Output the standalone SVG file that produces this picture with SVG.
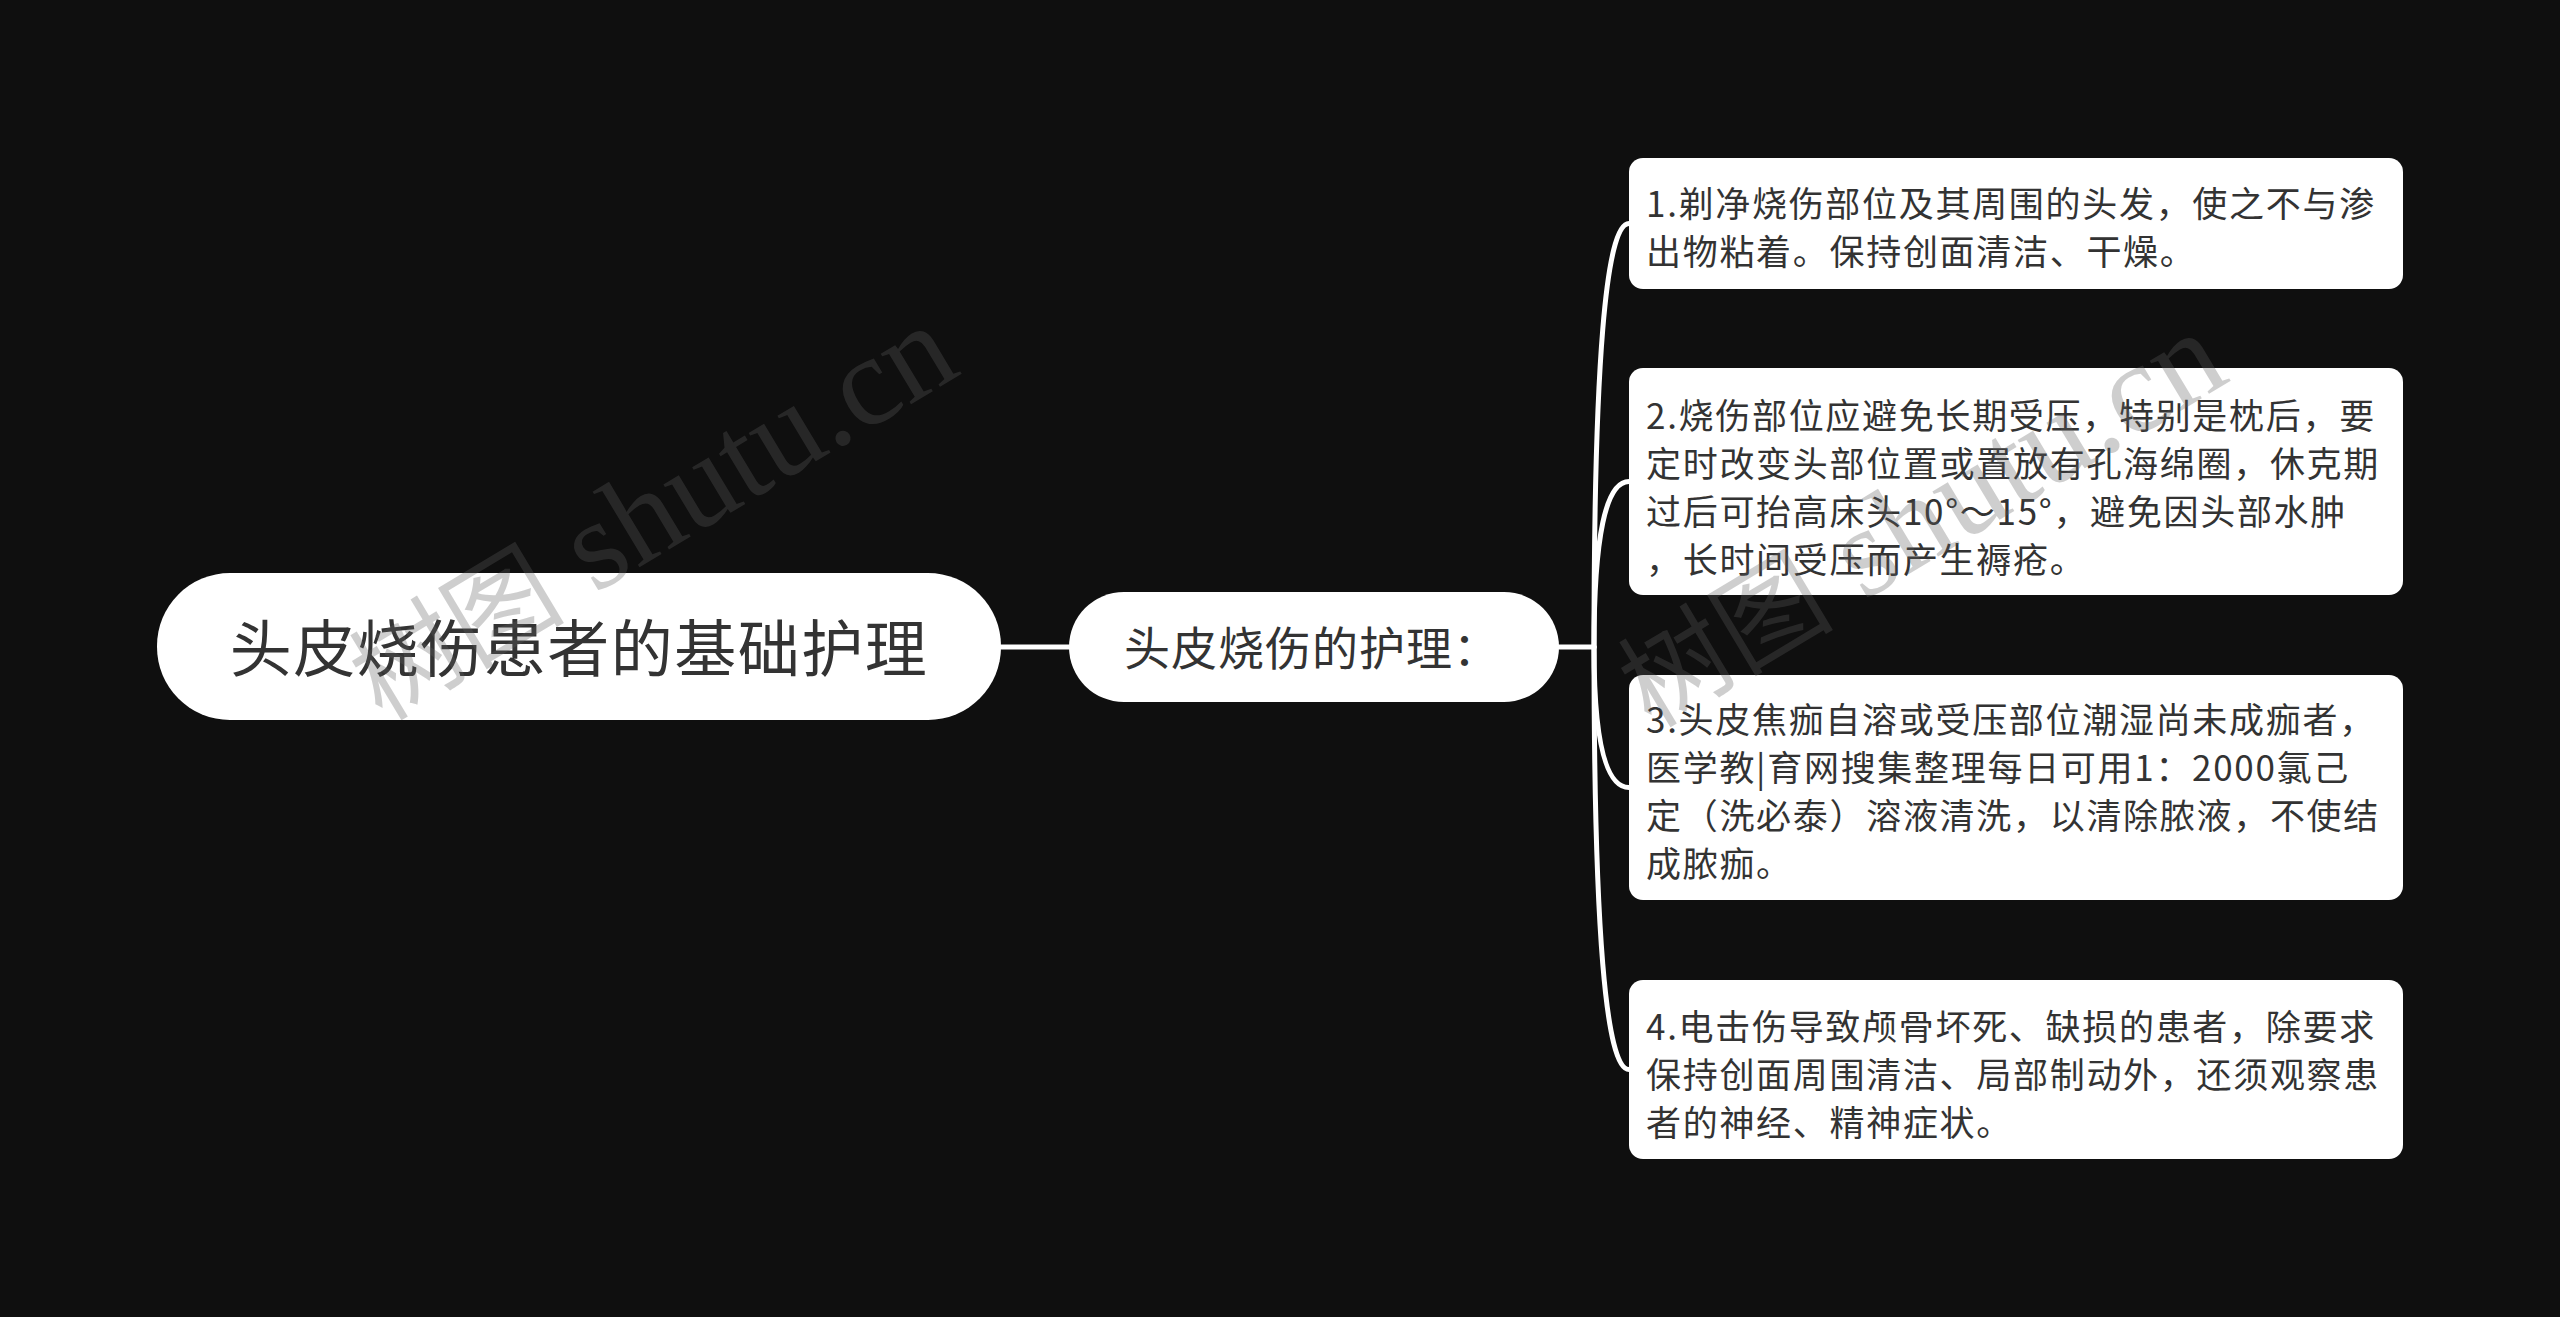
<svg xmlns="http://www.w3.org/2000/svg" width="2560" height="1317" viewBox="0 0 2560 1317">
<style>
.bg{fill:#0f0f0f}
.link{fill:none;stroke:#ffffff;stroke-width:5;stroke-linecap:round}
.box{fill:#ffffff}
.t{font-family:"Noto Sans CJK SC","Noto Sans",sans-serif;fill:#333333}
.leaf{font-size:35px;letter-spacing:1.7px}
.wm{font-family:"Liberation Serif","Noto Sans CJK SC",serif;fill:#606060;opacity:0.3}
.wm .cj{font-size:108px}
.wm .la{font-size:128px}
</style>
<rect class="bg" x="0" y="0" width="2560" height="1317"/>
<g id="connectors">
<path class="link" d="M1001 647 H1069"/>
<path class="link" d="M1559 647 H1594"/>
<path class="link" d="M1594 647 Q1594 223.5 1629 223.5"/>
<path class="link" d="M1594 647 Q1594 481.5 1629 481.5"/>
<path class="link" d="M1594 647 Q1594 787.5 1629 787.5"/>
<path class="link" d="M1594 647 Q1594 1069.5 1629 1069.5"/>
</g>
<g id="root">
<rect class="box" x="157" y="573" width="844" height="147" rx="73" ry="73"/>
<text class="t" x="579" y="672" font-size="62" letter-spacing="1.5" text-anchor="middle">头皮烧伤患者的基础护理</text>
</g>
<g id="branch">
<rect class="box" x="1069" y="592" width="490" height="110" rx="55" ry="55"/>
<text class="t" x="1124" y="665" font-size="46" letter-spacing="1">头皮烧伤的护理：</text>
</g>
<g id="leaf1">
<rect class="box" x="1629" y="158" width="774" height="131" rx="14" ry="14"/>
<text class="t leaf" x="1646" y="217">1.剃净烧伤部位及其周围的头发，使之不与渗</text>
<text class="t leaf" x="1646" y="265">出物粘着。保持创面清洁、干燥。</text>
</g>
<g id="leaf2">
<rect class="box" x="1629" y="368" width="774" height="227" rx="14" ry="14"/>
<text class="t leaf" x="1646" y="429">2.烧伤部位应避免长期受压，特别是枕后，要</text>
<text class="t leaf" x="1646" y="477">定时改变头部位置或置放有孔海绵圈，休克期</text>
<text class="t leaf" x="1646" y="525">过后可抬高床头10°～15°，避免因头部水肿</text>
<text class="t leaf" x="1646" y="573">，长时间受压而产生褥疮。</text>
</g>
<g id="leaf3">
<rect class="box" x="1629" y="675" width="774" height="225" rx="14" ry="14"/>
<text class="t leaf" x="1646" y="733">3.头皮焦痂自溶或受压部位潮湿尚未成痂者，</text>
<text class="t leaf" x="1646" y="781">医学教|育网搜集整理每日可用1：2000氯己</text>
<text class="t leaf" x="1646" y="829">定（洗必泰）溶液清洗，以清除脓液，不使结</text>
<text class="t leaf" x="1646" y="877">成脓痂。</text>
</g>
<g id="leaf4">
<rect class="box" x="1629" y="980" width="774" height="179" rx="14" ry="14"/>
<text class="t leaf" x="1646" y="1040">4.电击伤导致颅骨坏死、缺损的患者，除要求</text>
<text class="t leaf" x="1646" y="1088">保持创面周围清洁、局部制动外，还须观察患</text>
<text class="t leaf" x="1646" y="1136">者的神经、精神症状。</text>
</g>
<g id="watermarks">
<text class="wm" x="382" y="722" transform="rotate(-31 382 722)"><tspan class="cj">树图</tspan><tspan class="la"> shutu.cn</tspan></text>
<text class="wm" x="1651" y="729" transform="rotate(-31 1651 729)"><tspan class="cj">树图</tspan><tspan class="la"> shutu.cn</tspan></text>
</g>
</svg>
